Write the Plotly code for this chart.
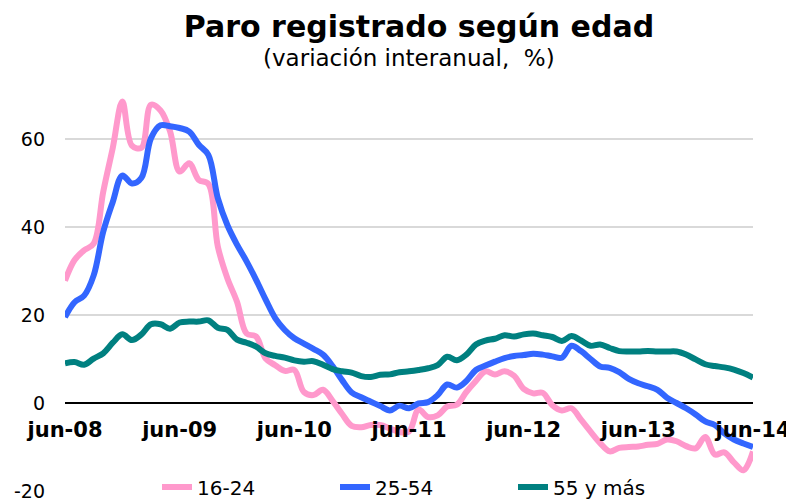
import plotly.graph_objects as go

# Monthly labels jun-08 .. jun-14
meses = ["ene", "feb", "mar", "abr", "may", "jun", "jul", "ago", "sep", "oct", "nov", "dic"]
fechas = []
m, a = 5, 8
for _ in range(73):
    fechas.append(f"{meses[m]}-{a:02d}")
    m += 1
    if m == 12:
        m, a = 0, a + 1

tick_labels = ["jun-08", "jun-09", "jun-10", "jun-11", "jun-12", "jun-13", "jun-14"]
y_ticks = [-20, 0, 20, 40, 60]
y_tick_text = ["-20", "0", "20", "40", "60"]

edad_16_24 = [27.8, 32.5, 34.7, 36.2, 48.0, 58.0, 68.5, 58.5, 58.0, 67.8, 66.5, 61.7,
              52.6, 54.5, 50.7, 49.8, 35.5, 28.3, 23.0, 15.8, 15.1, 10.1, 8.6, 7.3,
              7.5, 2.5, 1.8, 3.0, 0.5, -2.5, -5.2, -5.5, -5.0, -5.0, -5.8, -6.6,
              -6.5, -1.5, -3.2, -2.8, -0.8, -0.4, 2.5, 5.0, 7.2, 6.5, 7.2, 6.2,
              3.2, 2.2, 2.3, -0.5, -1.7, -1.2, -3.8, -6.5, -9.1, -11.0, -10.2, -10.0,
              -9.9, -9.5, -9.3, -8.3, -8.7, -9.8, -10.3, -7.7, -11.7, -11.2, -13.5, -15.3,
              -11.0]

edad_25_54 = [19.5, 22.9, 24.4, 29.0, 38.9, 45.7, 51.7, 49.9, 51.2, 60.2, 63.1, 62.9,
              62.5, 61.7, 58.7, 56.4, 46.5, 40.4, 36.0, 32.2, 28.0, 23.5, 19.3, 16.6,
              14.7, 13.5, 12.3, 11.0, 8.4, 5.2, 2.4, 1.3, 0.3, -0.7, -1.7, -0.6,
              -1.2, -0.1, 0.2, 1.8, 4.2, 3.5, 5.0, 7.5, 8.5, 9.4, 10.2, 10.7,
              10.9, 11.2, 11.0, 10.6, 10.3, 13.0, 11.8, 10.0, 8.3, 8.0, 7.0, 5.5,
              4.5, 3.8, 3.0, 1.2, 0.0, -1.2, -2.6, -4.2, -5.0, -6.9, -8.3, -9.2,
              -10.0]

edad_55_mas = [9.0, 9.3, 8.7, 10.1, 11.3, 13.7, 15.6, 14.3, 15.6, 17.9, 17.9, 16.9,
               18.3, 18.5, 18.5, 18.8, 17.1, 16.6, 14.4, 13.7, 12.8, 11.3, 10.7, 10.3,
               9.7, 9.4, 9.5, 8.7, 7.7, 7.2, 6.9, 6.1, 5.9, 6.4, 6.5, 7.0,
               7.2, 7.5, 7.9, 8.6, 10.5, 9.7, 11.0, 13.3, 14.2, 14.6, 15.4, 15.1,
               15.6, 15.8, 15.4, 15.0, 14.1, 15.2, 14.2, 13.0, 13.3, 12.5, 11.8, 11.7,
               11.7, 11.8, 11.7, 11.7, 11.7, 11.0, 9.9, 8.8, 8.4, 8.1, 7.6, 6.8,
               5.8]

series = [("16-24", edad_16_24, "#FF99CC"),
          ("25-54", edad_25_54, "#3366FF"),
          ("55 y más", edad_55_mas, "#008080")]

FONT = "DejaVu Sans"

fig = go.Figure()
for name, vals, col in series:
    fig.add_trace(go.Scatter(x=fechas, y=vals, name=name, mode="lines",
                             line=dict(color=col, width=6, shape="spline", smoothing=1)))

# page body has an 8px margin; layout numbers below are in figure pixels
W, H = 794, 501
OFF = 8
ml, mt = 65 - OFF, 95 - OFF
pr, pb = 753 - OFF, 491 - OFF
mr, mb = W - pr, H - pb
ymin, ymax = -20, 70
PW, PH = W - ml - mr, H - mt - mb

fig.update_layout(
    width=W, height=H, autosize=False,
    margin=dict(l=ml, r=mr, t=mt, b=mb, autoexpand=False),
    paper_bgcolor="white", plot_bgcolor="white",
    font=dict(family=FONT, color="black"),
    title=dict(text="Paro registrado según edad", font=dict(size=30, weight="bold", family=FONT),
               x=(419 - OFF) / W, xanchor="center", xref="container",
               y=1 - (26 - OFF) / H, yanchor="middle", yref="container"),
    showlegend=True,
    legend=dict(orientation="h", x=(157 - OFF) / W, xanchor="left", xref="container",
                y=(H - (487 - OFF)) / H, yanchor="middle", yref="container",
                bgcolor="rgba(0,0,0,0)",
                font=dict(size=20, family=FONT), entrywidth=133, entrywidthmode="pixels",
                traceorder="normal"),
    annotations=[dict(text="(variación interanual,  %)", xref="paper", yref="paper",
                      x=(409.5 - OFF - ml) / PW, y=(pb - (58 - OFF)) / PH,
                      xanchor="center", yanchor="middle", showarrow=False,
                      font=dict(size=23, family=FONT))],
)

fig.update_xaxes(type="category", range=[0, 72], tickmode="array",
                 tickvals=tick_labels, ticktext=tick_labels,
                 anchor="free", position=(0 - ymin) / (ymax - ymin),
                 showline=False, showgrid=False, ticks="", automargin=False,
                 ticklabelstandoff=12,
                 tickfont=dict(size=21, weight="bold", family=FONT))

fig.update_yaxes(range=[ymin, ymax], tickmode="array", tickvals=y_ticks, ticktext=y_tick_text,
                 showgrid=True, gridcolor="#D9D9D9", gridwidth=1.5,
                 zeroline=True, zerolinecolor="black", zerolinewidth=1.5,
                 ticks="", ticklabelstandoff=19, showline=False, automargin=False,
                 tickfont=dict(size=19, family=FONT))

fig.write_html("out.html")
